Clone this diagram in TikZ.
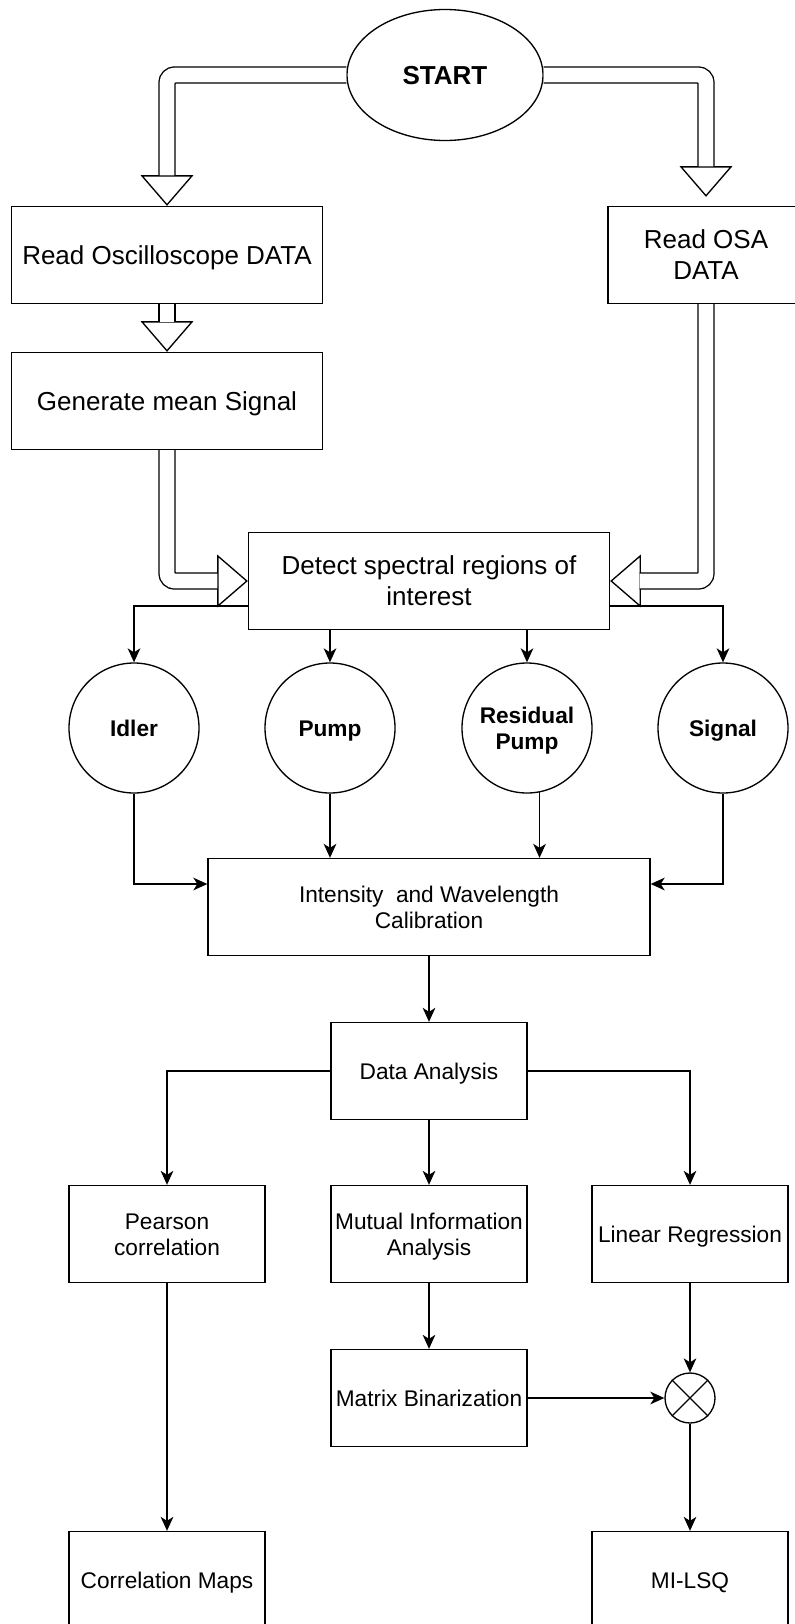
\documentclass[tikz,border=0pt]{standalone}
\usepackage{fontspec}
\setmainfont{Liberation Sans}
\usetikzlibrary{
  arrows.meta,
  shapes.geometric,
  calc
}
\newcommand{\fsbig}{\fontsize{19.5}{23.3}\selectfont}
\newcommand{\fssmall}{\fontsize{17}{19.5}\selectfont}
\tikzset{
  box/.style={draw, line width=1pt, fill=white, inner sep=0pt, align=center,
    minimum width=147pt, minimum height=72.75pt, font=\fssmall,
    text height=15.7pt, text depth=3.6pt},
  widebox/.style={box, font=\fsbig, text height=18.1pt, text depth=4.1pt},
  twoS/.style={text height=35.2pt},
  twoB/.style={text height=41.4pt},
  roi/.style={draw, circle, line width=1pt, inner sep=0pt, align=center,
    minimum size=97.5pt, font=\fssmall\bfseries, text height=15.7pt, text depth=3.6pt},
  mixer/.style={draw, circle, line width=1pt, inner sep=0pt, minimum size=37.5pt},
  conn/.style={line width=1pt, -{Stealth[length=10.5pt, width=9.5pt, inset=3pt]}},
  fatshaft/.style={line width=1pt, double=white, double distance=11.1pt,
    rounded corners=6pt},
  fathead/.style={line width=1pt, -{Triangle[length=23pt, width=39.5pt, fill=white]}}
}

\begin{document}
\begin{tikzpicture}[x=0.75pt, y=-0.75pt]
  \def\Xa{167};
  \def\Xb{429};
  \def\Xc{690};
  \def\Yr{728};
  \def\Yc{1234};
  \useasboundingbox (0,0) rectangle (794,1624);
        \node[ellipse, draw, line width=1pt, inner sep=0pt, minimum width=147pt, minimum height=98.25pt,
          font=\fsbig\bfseries, text height=18.1pt, text depth=4.1pt] (start) at (445,75) {START};
        \node[widebox, minimum width=233.25pt] (osc) at (\Xa,255) {Read Oscilloscope DATA};
        \node[widebox, twoB] (osa) at (706,255) {Read OSA\\DATA};
        \node[widebox, minimum width=233.25pt] (gen) at (\Xa,401) {Generate mean Signal};
        \node[widebox, twoB, minimum width=270.75pt] (det) at (\Xb,581) {Detect spectral regions of\\interest};
        % regions of interest
        \node[roi] (idler) at (134,\Yr) {Idler};
        \node[roi] (pump) at (330,\Yr) {Pump};
        \node[roi, twoS] (res) at (527,\Yr) {Residual\\Pump};
        \node[roi] (sig) at (723,\Yr) {Signal};
        \node[box, twoS, minimum width=331.5pt] (cal) at (\Xb,907) {Intensity~ and Wavelength\\Calibration};
        \node[box] (ana) at (\Xb,1071) {Data Analysis};
        \node[box, twoS] (pear) at (\Xa,\Yc) {Pearson\\correlation};
        \node[box, twoS] (mi) at (\Xb,\Yc) {Mutual Information\\Analysis};
        \node[box] (lin) at (\Xc,\Yc) {Linear Regression};
        \node[box] (bin) at (\Xb,1398) {Matrix Binarization};
        \node[mixer] (mix) at (\Xc,1398) {};
        \draw[line width=1pt] (mix.45) -- (mix.225) (mix.135) -- (mix.-45);
        \node[box] (maps) at (\Xa,1580) {Correlation Maps};
        \node[box] (lsq) at (\Xc,1580) {MI-LSQ};
        % block arrows, head first
	\draw[fathead] ($(osc.north)+(0,-32)$) -- (osc.north);
	\draw[fatshaft] (start.west) -| ($(osc.north)+(0,-30.5)$);
	\draw[fathead] ($(osa.north)+(0,-41)$) -- ($(osa.north)+(0,-9)$);
	\draw[fatshaft] (start.east) -| ($(osa.north)+(0,-39.5)$);
	\draw[fathead] ($(gen.north)+(0,-31)$) -- (gen.north);
	\draw[fatshaft] (osc.south) -- ($(gen.north)+(0,-29.5)$);
	\draw[fathead] ($(det.west)+(-32,0)$) -- (det.west);
	\draw[fatshaft] (gen.south) |- ($(det.west)+(-30.5,0)$);
	\draw[fathead] ($(det.east)+(31,0)$) -- (det.east);
	\draw[fatshaft] (osa.south) |- ($(det.east)+(29.5,0)$);
        % thin arrows
	\draw[conn] ($(det.west)+(0,25)$) -| (idler.north);
	\draw[conn] (det.south -| pump.north) -- (pump.north);
	\draw[conn] (det.south -| res.north) -- (res.north);
	\draw[conn] ($(det.east)+(0,25)$) -| (sig.north);
	\draw[conn] (idler.south) |- ($(cal.west)+(0,-23)$);
	\draw[conn] (pump.south) -- (pump.south |- cal.north);
	\draw[conn] (res.-79) -- (res.-79 |- cal.north);
	\draw[conn] (sig.south) |- ($(cal.east)+(0,-23)$);
	\draw[conn] (cal.south) -- (ana.north);
	\draw[conn] (ana.west) -| (pear.north);
	\draw[conn] (ana.south) -- (mi.north);
	\draw[conn] (ana.east) -| (lin.north);
	\draw[conn] (mi.south) -- (bin.north);
	\draw[conn] (lin.south) -- (mix.north);
	\draw[conn] (bin.east) -- (mix.west);
	\draw[conn] (mix.south) -- (lsq.north);
	\draw[conn] (pear.south) -- (maps.north);
\end{tikzpicture}
\end{document}
